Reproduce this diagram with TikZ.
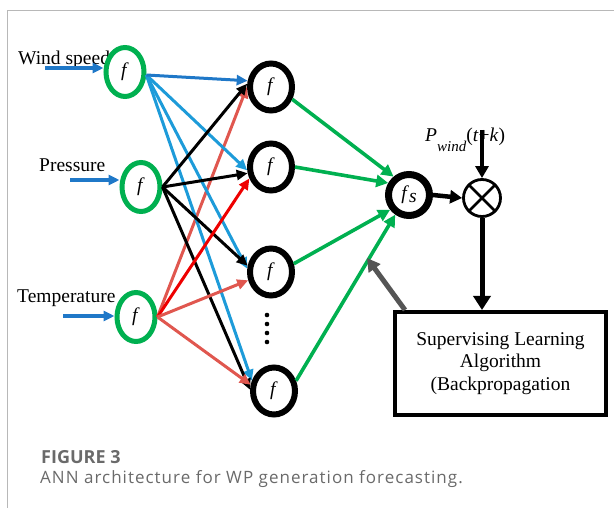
\documentclass[tikz,border=0pt]{standalone}
\usepackage{fontspec}
\setmainfont{Liberation Serif}
\newfontfamily\capfont{Open Sans}
\usetikzlibrary{shapes.geometric,arrows.meta,calc}
\definecolor{igreen}{HTML}{00B050}
\definecolor{wblue}{HTML}{1F78C8}
\definecolor{lblue}{HTML}{1D9BD9}
\definecolor{lred}{HTML}{E0574F}
\definecolor{dred}{HTML}{EE0000}
\definecolor{fbgray}{HTML}{555555}
\definecolor{capgray}{HTML}{6A6A6A}
\tikzset{
	inp/.style={ellipse,draw=igreen,line width=5pt,fill=white,minimum width=38pt,minimum height=49pt,inner sep=0pt},
	hid/.style={ellipse,draw,line width=6pt,fill=white,minimum width=42pt,minimum height=47pt,inner sep=0pt},
	lbl/.style={anchor=base west,inner sep=0pt},
	link/.style={line width=3pt,-{Triangle[length=11pt,width=10pt]}},
	glink/.style={igreen,line width=3.6pt,-{Triangle[length=12pt,width=12pt]}},
	thick arr/.style={line width=4.5pt,-{Triangle[length=12pt,width=13pt]}},
}
\begin{document}
\begin{tikzpicture}[x=1pt,y=-1pt,font=\fontsize{19.5}{22.5}\selectfont]
	\useasboundingbox (0,0) rectangle (614,508);
	\draw[black!28,line width=1pt] (614,11) -- (7,11) -- (7,508);
	\node[lbl] (lw) at (18,65) {Wind speed};
	\node[lbl] (lp) at (39,172) {Pressure};
	\node[lbl] (lt) at (17,302) {Temperature};
	\node[inp] (w) at (125,72) {\textit{f}};
	\node[inp] (p) at (141,187) {\textit{f}};
	\node[inp] (t) at (136,317) {\textit{f}};
	\node[hid] (h1) at (271,87) {\textit{f}};
	\node[hid] (h2) at (271,167) {\textit{f}};
	\node[hid] (h3) at (271,272) {\textit{f}};
	\node[hid] (h4) at (274,391) {\textit{f}};
	\foreach \y in {315,324,333,342}
		\fill (267,\y) circle (2.3pt);
	\coordinate (iw) at (45,68);
	\coordinate (ip) at (70,180);
	\coordinate (it) at (63,316);
	\draw[link,wblue,line width=3.4pt] (iw) -- (iw -| w.west);
	\draw[link,wblue,line width=3.4pt] (ip) -- (ip -| p.west);
	\draw[link,wblue,line width=3.4pt] (it) -- (it -| t.west);
	\draw[link,lred] (t.east) -- (h1.180);
	\draw[link,lblue] (w.-8) -- (h2.188);
	\draw[link,lblue] (w.-8) -- (h3.172);
	\draw[link,lblue] (w.-8) -- (h4.155);
	\draw[link,wblue] (w.-8) -- (h1.165);
	\draw[link] (p.east) -- (h1.172);
	\draw[link] (p.east) -- (h2.195);
	\draw[link] (p.east) -- (h3.165);
	\draw[link] (p.east) -- (h4.177);
	\draw[link,dred] (t.east) -- (h2.208);
	\draw[link,lred] (t.east) -- (h3.200);
	\draw[link,lred] (t.east) -- (h4.165);
	\node[circle,draw,line width=7pt,minimum size=41pt,inner sep=0pt] (fs) at (409,195) {\textit{f}\raisebox{-0.35ex}{\textit{s}}};
	\node[circle,draw,line width=2.8pt,minimum size=37pt,inner sep=0pt,
		path picture={\draw[line width=2.8pt] (path picture bounding box.north west) -- (path picture bounding box.south east)
			(path picture bounding box.north east) -- (path picture bounding box.south west);}] (mul) at (482,198) {};
	\draw[glink] (h1.-30) -- (fs.130);
	\draw[glink] (h2.east) -- (fs.150);
	\draw[glink] (h3.20) -- (fs.218);
	\draw[glink] (h4.25) -- (fs.235);
	\node[lbl] (pw) at (425,142) {\textit{P}\raisebox{-1.1ex}{\fontsize{15}{15}\selectfont\textit{wind}}(\textit{t}+\textit{k})};
	\coordinate (pin) at (482,130);
	\draw[thick arr,line width=3.8pt] (pin) -- (mul.north);
	\draw[thick arr] (fs.east) -- (mul.west);
	\node[draw,line width=4pt,minimum width=211pt,minimum height=103pt,align=center,inner sep=0pt] (box) at (500.5,363.5) {Supervising Learning\\Algorithm\\(Backpropagation};
	\draw[line width=5pt,-{Triangle[length=14pt,width=17pt]}] (mul.south) -- (mul.south |- box.north);
	\coordinate (fb) at (367,258);
	\draw[fbgray,line width=5pt,-{Triangle[length=13pt,width=14pt]}] ($(box.north west)+(12,0)$) -- (fb);
	\node[lbl,font=\capfont\bfseries\fontsize{18}{20}\selectfont,text=capgray] (cap1) at (41,463) {FIGURE 3};
	\node[lbl,font=\capfont\fontsize{17}{20}\selectfont\addfontfeatures{LetterSpace=6},text=capgray] (cap2) at (40,483) {ANN architecture for WP generation forecasting.};
\end{tikzpicture}
\end{document}
